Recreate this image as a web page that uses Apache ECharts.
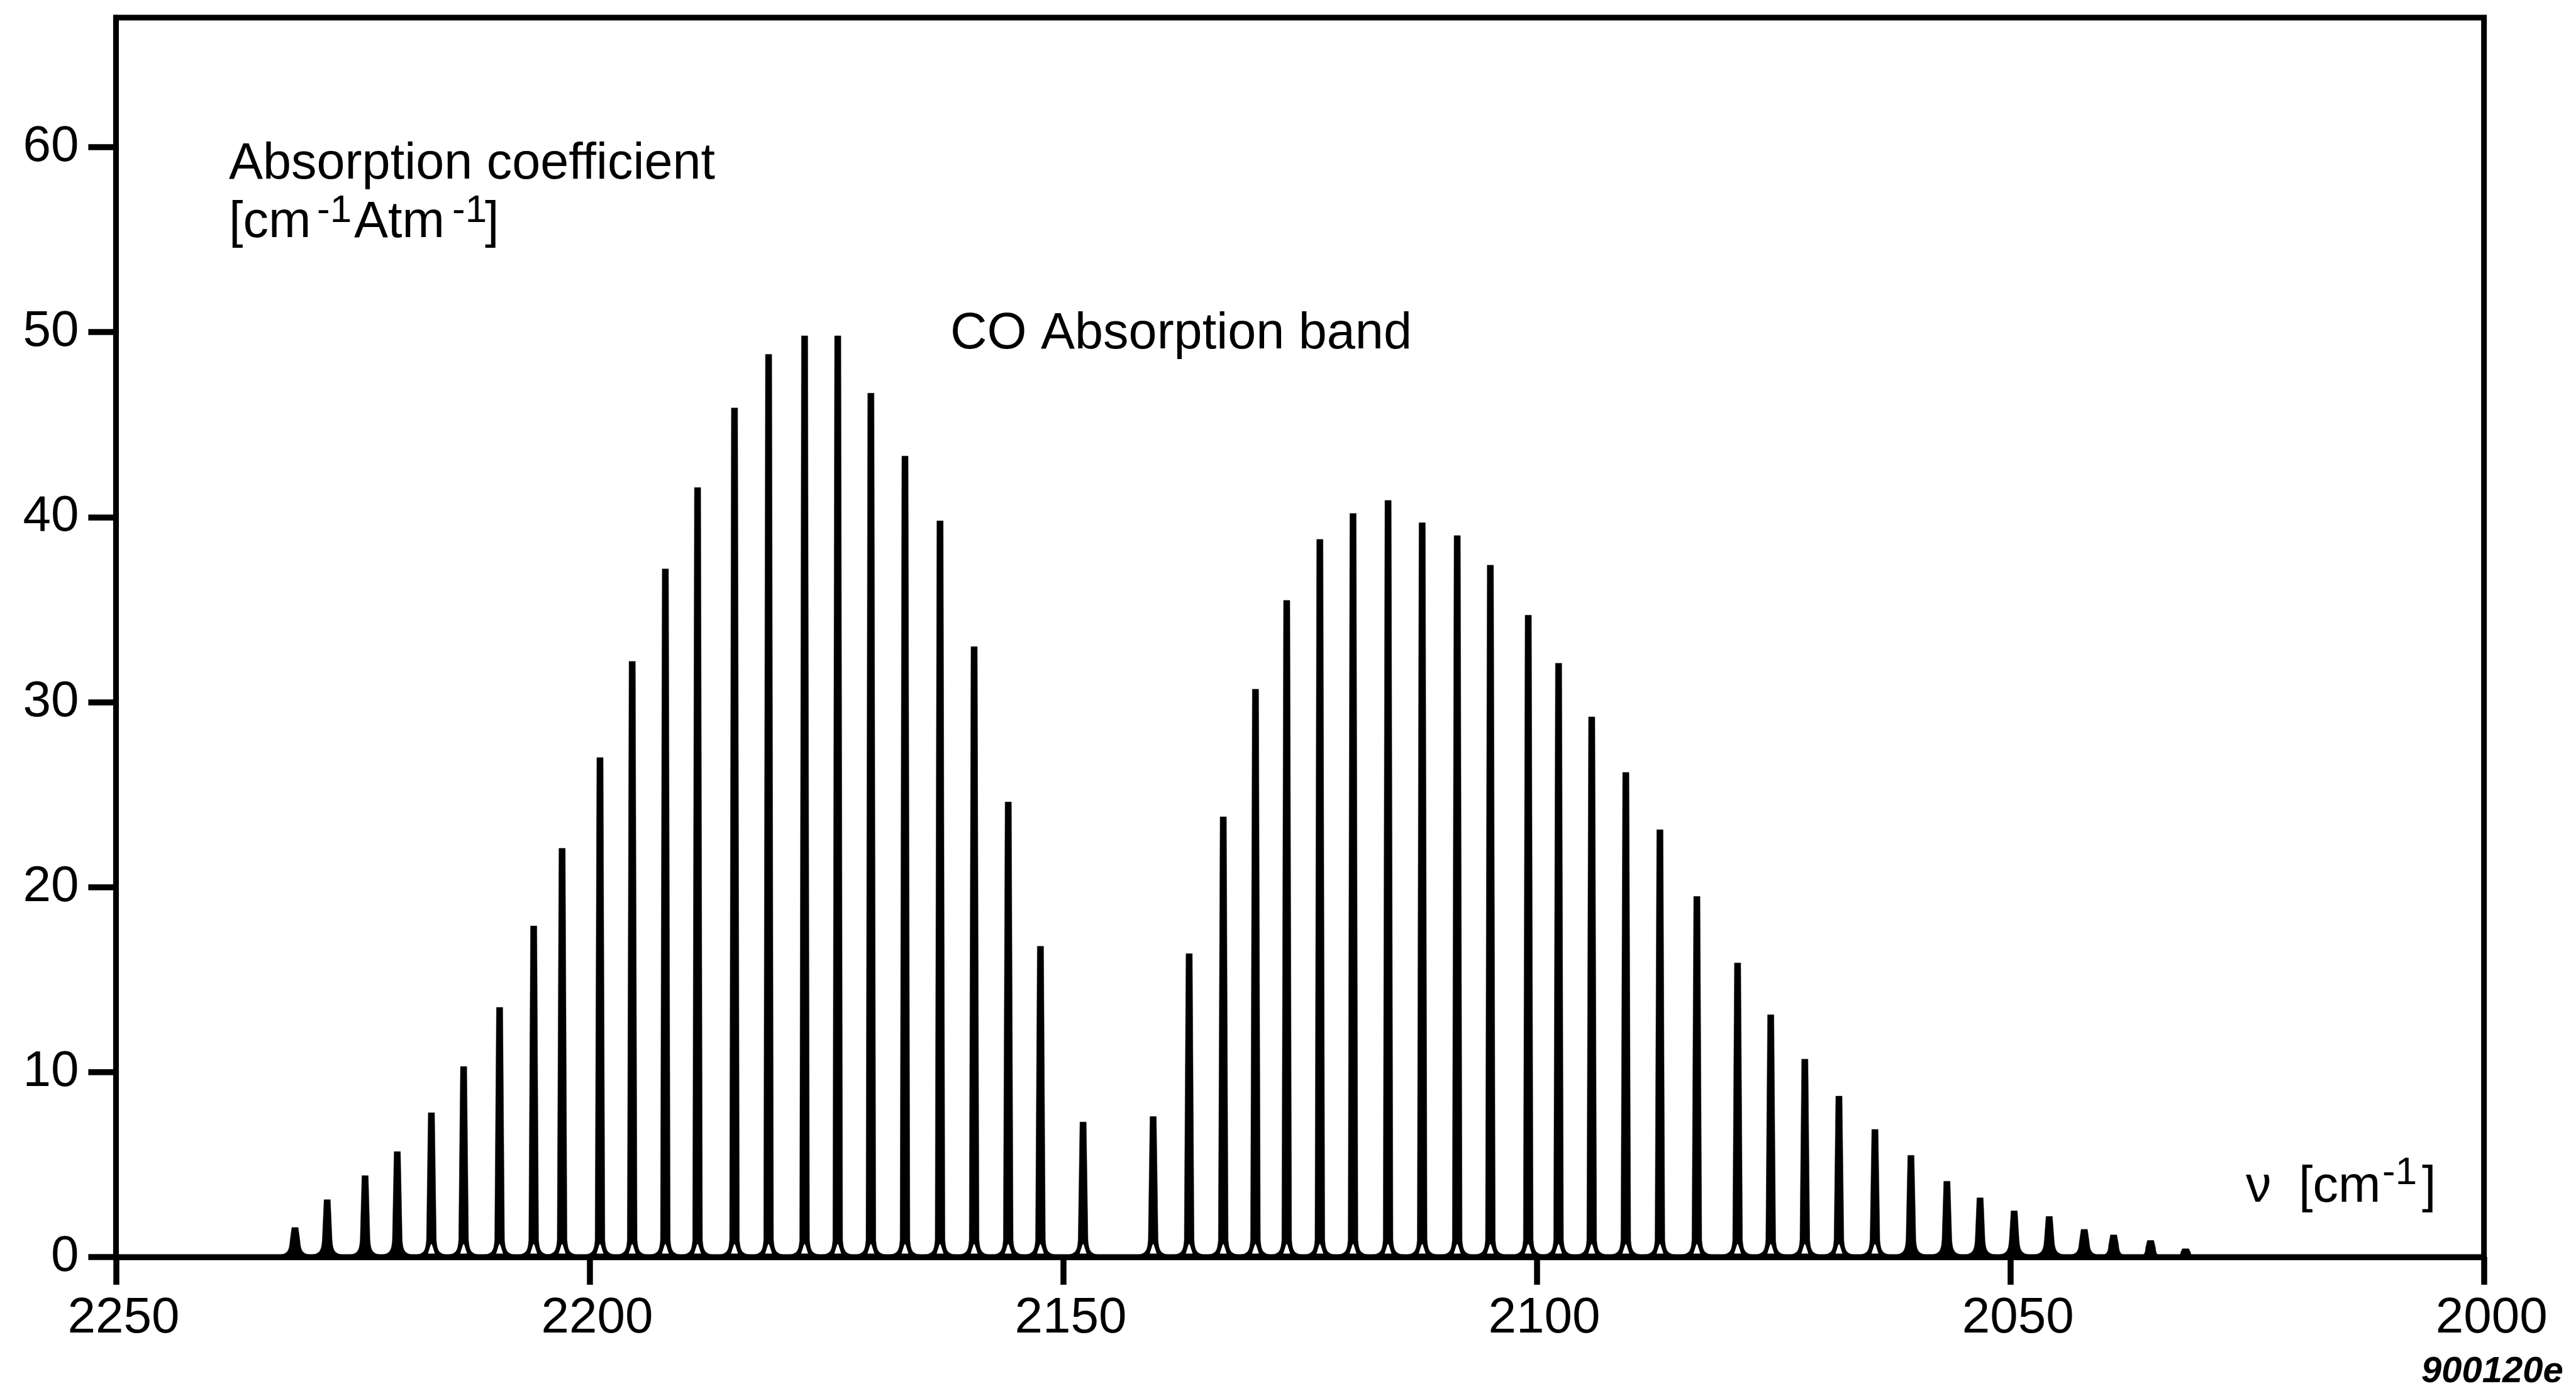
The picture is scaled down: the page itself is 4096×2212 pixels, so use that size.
<!DOCTYPE html>
<html>
<head>
<meta charset="utf-8">
<title>CO Absorption band</title>
<script src="https://cdn.jsdelivr.net/npm/echarts@6/dist/echarts.min.js"></script>
<style>
  html, body { margin: 0; padding: 0; background: #fff; }
  #chart { width: 4096px; height: 2212px; }
</style>
</head>
<body>
<div id="chart"></div>
<script>
// R branch lines (high-wavenumber side): position [cm-1] and peak absorption coefficient
const rBranchNu  = [2231.1, 2227.7, 2223.7, 2220.3, 2216.7, 2213.3, 2209.5, 2205.9, 2202.9, 2198.9,
                    2195.5, 2192.0, 2188.6, 2184.7, 2181.1, 2177.3, 2173.8, 2170.3, 2166.7, 2163.0,
                    2159.4, 2155.8, 2152.4, 2147.9];
const rBranchAbs = [1.6, 3.1, 4.4, 5.7, 7.8, 10.3, 13.5, 17.9, 22.1, 27.0,
                    32.2, 37.2, 41.6, 45.9, 48.8, 49.8, 49.8, 46.7, 43.3, 39.8,
                    33.0, 24.6, 16.8, 7.3];

// P branch lines (low-wavenumber side)
const pBranchNu  = [2140.5, 2136.7, 2133.1, 2129.7, 2126.4, 2122.9, 2119.4, 2115.7, 2112.1, 2108.4,
                    2104.9, 2100.9, 2097.7, 2094.2, 2090.6, 2087.0, 2083.1, 2078.8, 2075.3, 2071.7,
                    2068.1, 2064.3, 2060.5, 2056.7, 2053.2, 2049.6, 2045.9, 2042.2, 2039.1, 2035.2,
                    2031.5];
const pBranchAbs = [7.6, 16.4, 23.8, 30.7, 35.5, 38.8, 40.2, 40.9, 39.7, 39.0,
                    37.4, 34.7, 32.1, 29.2, 26.2, 23.1, 19.5, 15.9, 13.1, 10.7,
                    8.7, 6.9, 5.5, 4.1, 3.2, 2.5, 2.2, 1.5, 1.2, 0.9,
                    0.45];

// Axis ticks
const xTicks = [2250, 2200, 2150, 2100, 2050, 2000];
const yTicks = [0, 10, 20, 30, 40, 50, 60];

const FONT = '"Liberation Sans", Arial, Helvetica, sans-serif';
const INK = '#000';

const lines = [];
rBranchNu.forEach((nu, i) => lines.push([nu, rBranchAbs[i]]));
pBranchNu.forEach((nu, i) => lines.push([nu, pBranchAbs[i]]));

// Shape of one rotational line: a thin spike with a flared foot (pixel offsets, outward / upward)
const FLARE = [[24, 3.5], [19, 4.6], [15.5, 6.2], [12.5, 8.6], [10.5, 12], [9.2, 16], [8.4, 21], [7.8, 27]];
const TOP_HALF = 5.0;

function renderLine(params, api) {
  const nu = api.value(0);
  const a = api.value(1);
  const top = api.coord([nu, a]);
  const base = api.coord([nu, 0]);
  const x = base[0], yb = base[1], yt = top[1];
  const H = yb - yt;
  const k = Math.min(1, H / 48);
  const w = Math.max(0.5, k);
  const left = [], right = [];
  FLARE.forEach(([dx, dy]) => {
    const ddx = 7.8 + (dx - 7.8) * w;
    left.push([x - ddx, yb - dy * k]);
    right.unshift([x + ddx, yb - dy * k]);
  });
  const pts = left.concat([[x - TOP_HALF, yt], [x + TOP_HALF, yt]], right);
  const children = [{
    type: 'polygon',
    shape: { points: pts },
    style: { fill: INK, stroke: INK, lineWidth: 0.5 }
  }];
  if (H > 180) {
    children.push({
      type: 'polygon',
      shape: { points: [[x - 5.5, yb - 5.6], [x - 1.2, yb - 19], [x, yb - 21], [x + 1.2, yb - 19], [x + 5.5, yb - 5.6]] },
      style: { fill: '#fff' }
    });
  }
  return { type: 'group', children };
}

function txt(text, x, y, size, extra) {
  return {
    type: 'text',
    x: x, y: y,
    style: Object.assign({
      text: text,
      fill: INK,
      fontSize: size,
      fontFamily: FONT,
      align: 'left',
      verticalAlign: 'middle',
      textAlign: 'left',
      textVerticalAlign: 'middle'
    }, extra || {})
  };
}

const MAIN = 81, SUP = 62;

const chart = echarts.init(document.getElementById('chart'), null, { renderer: 'canvas' });
chart.setOption({
  animation: false,
  backgroundColor: '#fff',
  grid: {
    left: 184.4, right: 146.3, top: 28.1, bottom: 213,
    show: true, borderColor: INK, borderWidth: 9, backgroundColor: 'transparent'
  },
  xAxis: {
    type: 'value',
    min: 2000, max: 2250, interval: 50,
    inverse: true,
    axisLine: { show: true, onZero: false, lineStyle: { color: INK, width: 9 } },
    axisTick: { show: true, inside: false, length: 44, lineStyle: { color: INK, width: 9.5 } },
    axisLabel: {
      show: true, margin: 58, fontSize: 80, color: INK, fontFamily: FONT,
      padding: [0, 0, 0, 24], showMinLabel: true, showMaxLabel: true,
      customValues: xTicks,
      formatter: v => String(v)
    },
    splitLine: { show: false }
  },
  yAxis: {
    type: 'value',
    min: 0, max: 67, interval: 10,
    axisLine: { show: true, onZero: false, lineStyle: { color: INK, width: 9 } },
    axisTick: { show: true, inside: false, length: 44, lineStyle: { color: INK, width: 9.5 }, customValues: yTicks },
    axisLabel: {
      show: true, margin: 59, fontSize: 80, color: INK, fontFamily: FONT,
      padding: [0, 0, 25, 0], customValues: yTicks,
      formatter: v => (v % 10 === 0 ? String(v) : '')
    },
    splitLine: { show: false }
  },
  series: [{
    type: 'custom',
    name: 'CO Absorption band',
    coordinateSystem: 'cartesian2d',
    renderItem: renderLine,
    encode: { x: 0, y: 1 },
    data: lines,
    clip: false,
    z: 3
  }],
  graphic: [
    // y-axis quantity and unit
    txt('Absorption coefficient', 364, 262, MAIN),
    txt('[cm', 364, 355, MAIN),
    txt('-1', 504, 336, SUP),
    txt('Atm', 563, 355, MAIN),
    txt('-1', 719, 336, SUP),
    txt(']', 771, 355, MAIN),
    // title
    txt('CO Absorption band', 1511, 532, MAIN),
    // x-axis quantity and unit
    txt('\u03bd', 3571, 1889, MAIN),
    txt('[cm', 3655, 1889, MAIN),
    txt('-1', 3788, 1866, SUP),
    txt(']', 3851, 1889, MAIN),
    // figure number
    txt('900120e', 3850, 2182, 58, { fontStyle: 'italic', fontWeight: 'bold' })
  ]
});
</script>
</body>
</html>
